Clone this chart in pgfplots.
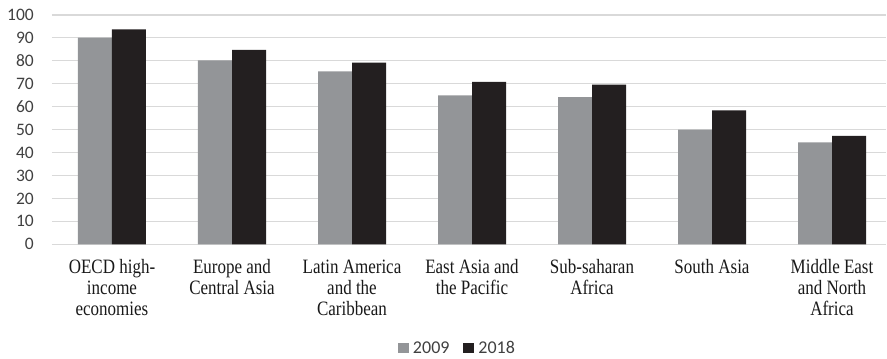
\documentclass[border=0pt]{standalone}
\usepackage{pgfplots}
\pgfplotsset{compat=1.18}
\usepackage{fontspec}
\setmainfont{Liberation Serif}
\newfontfamily\carlito{Carlito}
\definecolor{gbar}{HTML}{939598}
\definecolor{kbar}{HTML}{231F20}
\definecolor{gridc}{HTML}{D9D9D9}
\definecolor{tickc}{HTML}{404040}
\begin{document}
\begin{tikzpicture}[x=1pt,y=1pt]
\path[use as bounding box] (0,0) rectangle (887,-359);
\begin{axis}[
  scale only axis,
  width=834pt, height=229.3pt,
  anchor=south west, at={(52pt,-244.3pt)},
  xmin=-0.5, xmax=6.45,
  ymin=0, ymax=100,
  ytick={0,10,...,100},
  xtick={0,1,2,3,4,5,6},
  xticklabels={{OECD high-\\income\\economies},{Europe and\\Central Asia},{Latin America\\and the\\Caribbean},{East Asia and\\the Pacific},{Sub-saharan\\Africa},{South Asia},{Middle East\\and North\\Africa}},
  xticklabel style={align=center, font=\fontsize{17}{17.5}\selectfont, text=black!90, inner sep=0pt, anchor=north, yshift=-15pt, yscale=1.2, transform shape},
  yticklabel style={font=\carlito\fontsize{17.5}{20}\selectfont, text=tickc, inner sep=0pt, anchor=east, xshift=-18pt},
  /pgf/number format/assume math mode=true,
  major tick length=0pt,
  axis line style={draw=none},
  ymajorgrids, grid style={gridc, line width=1.1pt},
  ybar=0pt, bar width=34pt,
  legend columns=2,
  legend style={draw=none, fill=none, at={(axis description cs:0.485,-0.449)}, anchor=center,
    font=\carlito\fontsize{18}{20}\selectfont, text=tickc, inner sep=0pt,
    /tikz/every odd column/.append style={column sep=4pt},
    /tikz/every even column/.append style={column sep=14pt},
    nodes={inner sep=0pt, text depth=0pt}},
  legend image code/.code={\fill[#1] (0pt,-6pt) rectangle (11pt,4pt);},
]
\addplot[fill=gbar, draw=none] coordinates {(0,90.1) (1,80.2) (2,75.4) (3,64.9) (4,64.2) (5,50.0) (6,44.5)};
\addplot[fill=kbar, draw=none] coordinates {(0,93.7) (1,84.8) (2,79.2) (3,70.8) (4,69.6) (5,58.4) (6,47.3)};
\legend{2009,2018}
\end{axis}
\end{tikzpicture}
\end{document}
